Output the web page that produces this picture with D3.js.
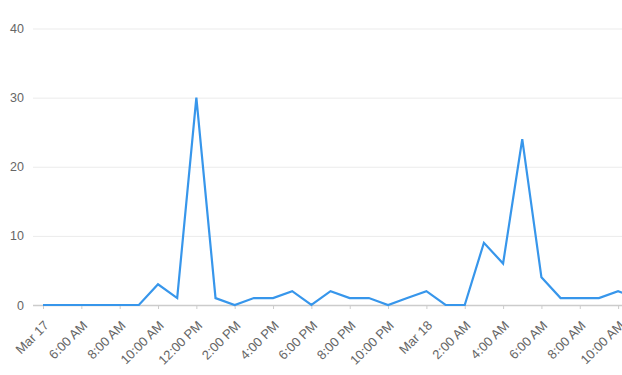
<!DOCTYPE html>
<html lang="en">
  <head>
    <meta charset="utf-8">
    <title>hourly counts</title>
    <script src="https://d3js.org/d3.v7.min.js"></script>
    <style>
      body { margin: 0; background: #fff; }
      text { font-family: "Liberation Sans", Arial, sans-serif; }
    </style>
  </head>
  <body>
  <script>

// hourly values, starting Mar 17 4:00 AM
  var startTime = new Date(2023, 2, 17, 4, 0);
  var values = [0, 0, 0, 0, 0, 0, 3, 1, 30, 1, 0, 1, 1, 2, 0, 2, 1, 1, 0, 1,
                2, 0, 0, 9, 6, 24, 4, 1, 1, 1, 2, 1];
  var tickLabels = ["Mar 17", "6:00 AM", "8:00 AM", "10:00 AM", "12:00 PM", "2:00 PM",
                    "4:00 PM", "6:00 PM", "8:00 PM", "10:00 PM", "Mar 18", "2:00 AM",
                    "4:00 AM", "6:00 AM", "8:00 AM", "10:00 AM"];
  var yTicks = [0, 10, 20, 30, 40];

  var w = 622;
  var h = 375;

  var data = values.map((v, i) => ({t: d3.timeHour.offset(startTime, i), v: v}));
  var tickTimes = tickLabels.map((d, i) => d3.timeHour.offset(startTime, i * 2));

  var svg = d3.select("body")
    .append("svg")
      .attr("width", w)
      .attr("height", h);

  var xScale = d3.scaleTime()
      .domain([startTime, data[data.length - 1].t])
      .range([43, 43 + (data.length - 1) * 19.17]);

  var yScale = d3.scaleLinear()
      .domain([0, 40])
      .range([305, 28.5]);

  // grid + y labels
  var yAxis = d3.axisLeft(yScale)
      .tickValues(yTicks)
      .tickSize(-(w - 33))
      .tickPadding(9);

  var gy = svg.append("g")
      .attr("transform", "translate(33,0)")
      .call(yAxis);
  gy.select(".domain").remove();
  gy.selectAll(".tick line")
      .attr("stroke", (d) => d === 0 ? "none" : "#ebebeb");
  gy.selectAll(".tick text")
      .attr("fill", "#666")
      .attr("font-size", "12.5px");

  // x axis
  var xAxis = d3.axisBottom(xScale)
      .tickValues(tickTimes)
      .tickFormat((d, i) => tickLabels[i])
      .tickSize(4)
      .tickSizeOuter(0);

  var gx = svg.append("g")
      .attr("transform", "translate(0,305)")
      .call(xAxis);
  gx.select(".domain")
      .attr("d", `M33,0.5H${w}`)
      .attr("stroke", "#ccc")
      .attr("stroke-width", 1.5);
  gx.selectAll(".tick line")
      .attr("stroke", "#ccc");
  gx.selectAll(".tick text")
      .attr("fill", "#666")
      .attr("font-size", "13px")
      .attr("text-anchor", "end")
      .attr("dy", "0.35em")
      .attr("transform", "translate(3,18) rotate(-45)")
      .attr("y", 0)
      .attr("x", 0);

  var line = d3.line()
      .x(d => xScale(d.t))
      .y(d => yScale(d.v));

  svg.append("path")
      .datum(data)
      .attr("d", line)
      .attr("fill", "none")
      .attr("stroke", "#3796eb")
      .attr("stroke-width", 2.2)
      .attr("stroke-linejoin", "miter");

  </script>
  </body>
</html>
